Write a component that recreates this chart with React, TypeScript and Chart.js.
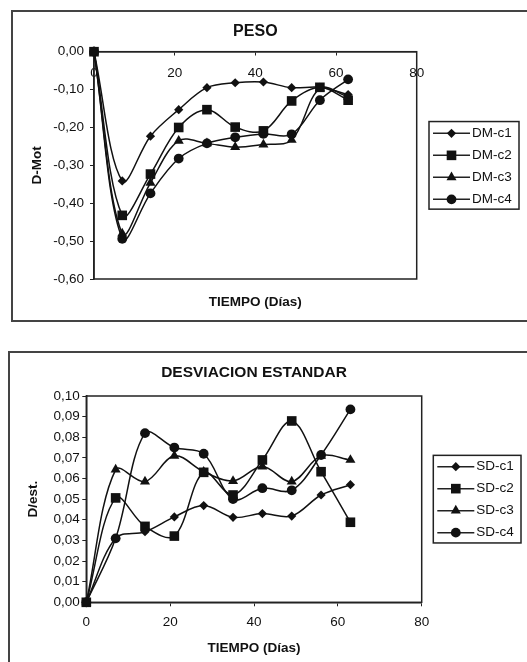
import React, { useEffect, useRef } from "react";
import { Chart, registerables } from "chart.js";

Chart.register(...registerables);
Chart.defaults.font.family = "'Liberation Sans', Arial, sans-serif";
Chart.defaults.color = "#111";

const days = [0, 7, 14, 21, 28, 35, 42, 49, 56, 63];

const dmLabels = ["DM-c1", "DM-c2", "DM-c3", "DM-c4"];
const dmC1 = [0, -0.341, -0.223, -0.153, -0.095, -0.082, -0.08, -0.095, -0.094, -0.113];
const dmC2 = [0, -0.432, -0.323, -0.2, -0.153, -0.199, -0.209, -0.13, -0.094, -0.128];
const dmC3 = [0, -0.48, -0.346, -0.235, -0.242, -0.252, -0.245, -0.233, -0.097, -0.119];
const dmC4 = [0, -0.494, -0.374, -0.282, -0.242, -0.226, -0.217, -0.218, -0.128, -0.073];

const sdLabels = ["SD-c1", "SD-c2", "SD-c3", "SD-c4"];
const sdC1 = [0, 0.031, 0.0342, 0.0414, 0.0469, 0.0412, 0.043, 0.0418, 0.052, 0.057];
const sdC2 = [0, 0.0506, 0.0368, 0.0321, 0.063, 0.052, 0.069, 0.0879, 0.0633, 0.0388];
const sdC3 = [0, 0.0643, 0.0585, 0.071, 0.0633, 0.0588, 0.0658, 0.0585, 0.071, 0.069];
const sdC4 = [0, 0.031, 0.082, 0.075, 0.072, 0.05, 0.0553, 0.0543, 0.0714, 0.0935];

const xTicks = [0, 20, 40, 60, 80];

const styles = ["rectRot", "rect", "triangle", "circle"];
const radii = [4.6, 6.8, 5.8, 4.9];

function fmt(v: number) {
  const n = Math.abs(v) < 1e-9 ? 0 : v;
  return n.toFixed(2).replace(".", ",");
}

function drawMarker(ctx: CanvasRenderingContext2D, style: string, x: number, y: number, r: number) {
  ctx.beginPath();
  if (style === "circle") {
    ctx.arc(x, y, r, 0, Math.PI * 2);
  } else if (style === "rect") {
    const s = r * Math.SQRT1_2;
    ctx.rect(x - s, y - s, 2 * s, 2 * s);
  } else if (style === "rectRot") {
    ctx.moveTo(x, y - r);
    ctx.lineTo(x + r, y);
    ctx.lineTo(x, y + r);
    ctx.lineTo(x - r, y);
    ctx.closePath();
  } else {
    ctx.moveTo(x, y - r);
    ctx.lineTo(x + 0.866 * r, y + 0.5 * r);
    ctx.lineTo(x - 0.866 * r, y + 0.5 * r);
    ctx.closePath();
  }
  ctx.fill();
}

const framePlugin = {
  id: "frameLegend",
  beforeDatasetsDraw(chart: any) {
    const { ctx, chartArea: a } = chart;
    ctx.save();
    ctx.strokeStyle = "#222";
    ctx.lineWidth = 1.5;
    ctx.strokeRect(a.left, a.top, a.right - a.left, a.bottom - a.top);
    ctx.restore();
  },
  afterDraw(chart: any, _args: any, opts: any) {
    const { ctx, chartArea: a } = chart;
    ctx.save();
    const bx = a.right + opts.gap;
    const cy = (a.top + a.bottom) / 2;
    const by = cy - opts.height / 2;
    ctx.strokeStyle = "#222";
    ctx.fillStyle = "#111";
    ctx.lineWidth = 1.5;
    ctx.strokeRect(bx, by, opts.width, opts.height);
    ctx.font = "13.5px 'Liberation Sans', Arial, sans-serif";
    ctx.textBaseline = "middle";
    ctx.textAlign = "left";
    chart.data.datasets.forEach((ds: any, i: number) => {
      const y = cy + (i - 1.5) * opts.rowGap + opts.rowShift;
      ctx.beginPath();
      ctx.moveTo(bx + 4, y);
      ctx.lineTo(bx + 41, y);
      ctx.stroke();
      drawMarker(ctx, ds.pointStyle, bx + 22.5, y, ds.pointRadius);
      ctx.fillText(ds.label, bx + 43, y);
    });
    ctx.restore();
  },
};

function makeDatasets(labels: string[], series: number[][]) {
  return series.map((vals, i) => ({
    label: labels[i],
    data: days.map((d, j) => ({ x: d, y: vals[j] })),
    borderColor: "#111",
    backgroundColor: "#111",
    borderWidth: 1.5,
    pointStyle: styles[i],
    pointRadius: radii[i],
    pointBorderWidth: 0,
    pointBackgroundColor: "#111",
    tension: 0.35,
    clip: false,
  }));
}

function titleAxis(text: string, size: number, padTop: number, height: number) {
  return {
    type: "linear",
    min: 0,
    max: 80,
    position: "top",
    ticks: { display: false },
    grid: { display: false },
    border: { display: false },
    title: {
      display: true,
      text,
      color: "#111",
      font: { size, weight: "bold" },
      padding: { top: padTop, bottom: 0 },
    },
    afterFit: (s: any) => {
      s.height = height;
    },
  };
}

function PesoChart() {
  const ref = useRef<HTMLCanvasElement>(null);
  useEffect(() => {
    const chart = new Chart(ref.current!, {
      type: "line",
      data: { datasets: makeDatasets(dmLabels, [dmC1, dmC2, dmC3, dmC4]) as any },
      plugins: [framePlugin as any],
      options: {
        animation: false,
        responsive: false,
        layout: { padding: { left: 0, right: 110.3, top: 0, bottom: 0 } },
        plugins: {
          legend: { display: false },
          tooltip: { enabled: false },
          title: { display: false },
          frameLegend: { gap: 12.3, width: 90, height: 87.6, rowGap: 22, rowShift: 1 },
        } as any,
        scales: {
          xt: titleAxis("PESO", 16, 11.1, 40.7),
          x: {
            type: "linear",
            min: 0,
            max: 80,
            position: { y: 0 } as any,
            afterBuildTicks: (s: any) => {
              s.ticks = xTicks.map((v) => ({ value: v }));
            },
            ticks: { padding: 10.5, color: "#111", font: { size: 13.5 } },
            grid: { display: true, drawOnChartArea: false, tickLength: 3, color: "#222" },
            border: { display: true, color: "#222", width: 1.5 },
          },
          x2: {
            type: "linear",
            min: 0,
            max: 80,
            position: "bottom",
            ticks: { display: false },
            grid: { display: false },
            border: { display: false },
            title: {
              display: true,
              text: "TIEMPO (Días)",
              color: "#111",
              font: { size: 13.5, weight: "bold" },
              padding: { top: 0, bottom: 10.2 },
            },
            afterFit: (s: any) => {
              s.height = 42;
            },
          },
          y: {
            type: "linear",
            min: -0.6,
            max: 0,
            position: "left",
            ticks: { stepSize: 0.1, padding: 6, color: "#111", font: { size: 13.5 }, callback: (v: any) => fmt(Number(v)) },
            grid: { display: true, drawOnChartArea: false, tickLength: 4, color: "#222" },
            border: { display: true, color: "#222", width: 1.5 },
            title: {
              display: true,
              text: "D-Mot",
              color: "#111",
              font: { size: 13.5, weight: "bold" },
              padding: { top: 16.9, bottom: 0 },
            },
            afterFit: (s: any) => {
              s.width = 82;
            },
          },
        } as any,
      },
    });
    return () => chart.destroy();
  }, []);
  return <canvas ref={ref} width={515} height={310} style={{ width: 515, height: 310, display: "block" }} />;
}

function SdChart() {
  const ref = useRef<HTMLCanvasElement>(null);
  useEffect(() => {
    const chart = new Chart(ref.current!, {
      type: "line",
      data: { datasets: makeDatasets(sdLabels, [sdC1, sdC2, sdC3, sdC4]) as any },
      plugins: [framePlugin as any],
      options: {
        animation: false,
        responsive: false,
        layout: { padding: { left: 0, right: 105.3, top: 0, bottom: 0 } },
        plugins: {
          legend: { display: false },
          tooltip: { enabled: false },
          title: { display: false },
          frameLegend: { gap: 11.6, width: 87.7, height: 87.6, rowGap: 22, rowShift: 0.5 },
        } as any,
        scales: {
          xt: titleAxis("DESVIACION ESTANDAR", 15.5, 11.4, 44),
          x: {
            type: "linear",
            min: 0,
            max: 80,
            position: "bottom",
            afterBuildTicks: (s: any) => {
              s.ticks = xTicks.map((v) => ({ value: v }));
            },
            ticks: { padding: 8.2, color: "#111", font: { size: 13.5 } },
            grid: { display: true, drawOnChartArea: false, tickLength: 4, color: "#222" },
            border: { display: true, color: "#222", width: 1.5 },
            title: {
              display: true,
              text: "TIEMPO (Días)",
              color: "#111",
              font: { size: 13.5, weight: "bold" },
              padding: { top: 0, bottom: 5.9 },
            },
            afterFit: (s: any) => {
              s.height = 59.7;
            },
          },
          y: {
            type: "linear",
            min: 0,
            max: 0.1,
            position: "left",
            ticks: { stepSize: 0.01, padding: 2.5, color: "#111", font: { size: 13.5 }, callback: (v: any) => fmt(Number(v)) },
            grid: { display: true, drawOnChartArea: false, tickLength: 4, color: "#222" },
            border: { display: true, color: "#222", width: 1.5 },
            title: {
              display: true,
              text: "D/est.",
              color: "#111",
              font: { size: 13.5, weight: "bold" },
              padding: { top: 15.5, bottom: 0 },
            },
            afterFit: (s: any) => {
              s.width = 76.3;
            },
          },
        } as any,
      },
    });
    return () => chart.destroy();
  }, []);
  return <canvas ref={ref} width={517} height={310} style={{ width: 517, height: 310, display: "block" }} />;
}

export default function App() {
  return (
    <div style={{ position: "fixed", left: 0, top: 0, width: 527, height: 662, overflow: "hidden", background: "#fff" }}>
      <div style={{ position: "absolute", left: 11, top: 10, width: 540, height: 312, border: "2px solid #444", boxSizing: "border-box" }} />
      <div style={{ position: "absolute", left: 12, top: 11 }}>
        <PesoChart />
      </div>
      <div style={{ position: "absolute", left: 8, top: 351, width: 540, height: 340, border: "2px solid #444", boxSizing: "border-box" }} />
      <div style={{ position: "absolute", left: 10, top: 352 }}>
        <SdChart />
      </div>
    </div>
  );
}
